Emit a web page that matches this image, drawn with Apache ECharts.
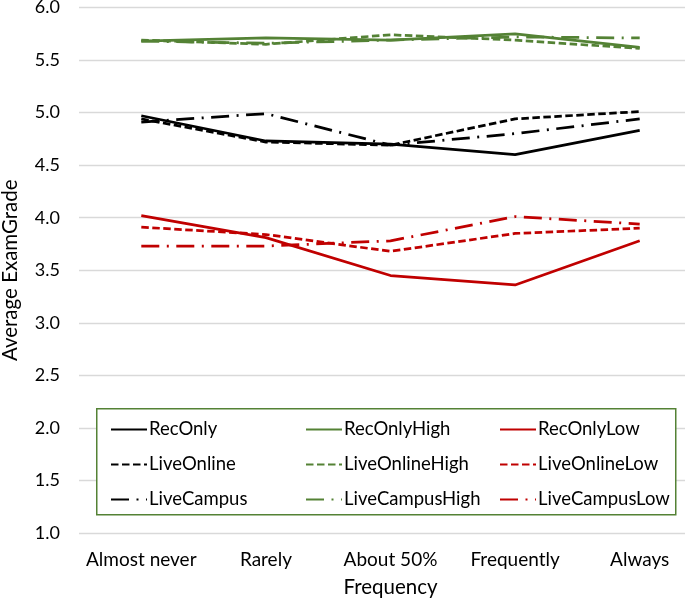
<!DOCTYPE html>
<html>
<head>
<meta charset="utf-8">
<title>Average ExamGrade</title>
<script src="https://cdn.jsdelivr.net/npm/echarts@6/dist/echarts.min.js"></script>
<style>
  html, body { margin: 0; padding: 0; background: #fff; }
  #main { width: 685px; height: 601px; }
</style>
</head>
<body>
<div id="main"></div>
<script>
// 数据
const categories = ["Almost never", "Rarely", "About 50%", "Frequently", "Always"];
const yTicks = [1.0, 1.5, 2.0, 2.5, 3.0, 3.5, 4.0, 4.5, 5.0, 5.5, 6.0];

const recOnly = [4.97, 4.73, 4.70, 4.60, 4.83];
const liveOnline = [4.94, 4.72, 4.69, 4.94, 5.01];
const liveCampus = [4.91, 4.99, 4.69, 4.80, 4.94];
const recOnlyHigh = [5.68, 5.71, 5.69, 5.75, 5.62];
const liveOnlineHigh = [5.69, 5.65, 5.74, 5.69, 5.61];
const liveCampusHigh = [5.68, 5.66, 5.69, 5.72, 5.71];
const recOnlyLow = [4.02, 3.81, 3.45, 3.36, 3.78];
const liveOnlineLow = [3.91, 3.84, 3.68, 3.85, 3.90];
const liveCampusLow = [3.73, 3.73, 3.78, 4.01, 3.94];

const FONT = "Lato";
const BLACK = "#000000";
const GREEN = "#548235";
const RED = "#c00000";
const DOT = [7.5, 3.5];
const DASH = [18, 7.5, 2, 7.5];

const makeLine = (name, data, color, dash) => ({
  name: name,
  type: "line",
  data: data,
  symbol: "none",
  silent: true,
  z: 3,
  lineStyle: { color: color, width: 2.75, type: dash || "solid", cap: "butt" },
  itemStyle: { color: color },
});

const legendBase = (left, names) => ({
  orient: "vertical",
  left: left,
  top: 415,
  itemWidth: 36,
  itemHeight: 14,
  itemGap: 16,
  z: 10,
  selectedMode: false,
  itemStyle: { opacity: 0 },
  textStyle: { fontFamily: FONT, fontSize: 18.5, color: "#000", padding: [0, 0, 0, -3] },
  data: names,
});

const myChart = echarts.init(document.getElementById("main"), null, { renderer: "canvas" });

myChart.setOption({
  animation: false,
  backgroundColor: "#fff",
  // 右侧绘图区被裁掉一部分
  grid: { left: 79, right: -17, top: 7.5, bottom: 68, outerBoundsMode: "none", containLabel: false },
  xAxis: {
    type: "category",
    data: categories,
    boundaryGap: true,
    axisLine: { show: false },
    axisTick: { show: false },
    axisLabel: { fontFamily: FONT, fontSize: 19, color: "#000", margin: 17, interval: 0 },
    name: "Frequency",
    nameLocation: "middle",
    nameGap: 44,
    nameTextStyle: { fontFamily: FONT, fontSize: 20.5, color: "#000" },
  },
  yAxis: {
    type: "value",
    min: yTicks[0],
    max: yTicks[yTicks.length - 1],
    interval: 0.5,
    axisLine: { show: false },
    axisTick: { show: false },
    splitLine: { lineStyle: { color: "#d9d9d9", width: 1.3 } },
    axisLabel: {
      fontFamily: FONT,
      fontSize: 18,
      color: "#000",
      margin: 19,
      formatter: (v) => v.toFixed(1),
    },
    name: "Average ExamGrade",
    nameLocation: "middle",
    nameGap: 58,
    nameTextStyle: { fontFamily: FONT, fontSize: 20.5, color: "#000" },
  },
  legend: [
    legendBase(105, ["RecOnly", "LiveOnline", "LiveCampus"]),
    legendBase(300, ["RecOnlyHigh", "LiveOnlineHigh", "LiveCampusHigh"]),
    legendBase(494, ["RecOnlyLow", "LiveOnlineLow", "LiveCampusLow"]),
  ],
  // 图例外框
  graphic: [
    {
      type: "rect",
      left: 96,
      top: 408,
      z: 5,
      shape: { width: 579, height: 106 },
      style: { fill: "#fff", stroke: GREEN, lineWidth: 1.5 },
    },
  ],
  series: [
    makeLine("RecOnly", recOnly, BLACK),
    makeLine("LiveOnline", liveOnline, BLACK, DOT),
    makeLine("LiveCampus", liveCampus, BLACK, DASH),
    makeLine("RecOnlyHigh", recOnlyHigh, GREEN),
    makeLine("LiveOnlineHigh", liveOnlineHigh, GREEN, DOT),
    makeLine("LiveCampusHigh", liveCampusHigh, GREEN, DASH),
    makeLine("RecOnlyLow", recOnlyLow, RED),
    makeLine("LiveOnlineLow", liveOnlineLow, RED, DOT),
    makeLine("LiveCampusLow", liveCampusLow, RED, DASH),
  ],
});
</script>
</body>
</html>
